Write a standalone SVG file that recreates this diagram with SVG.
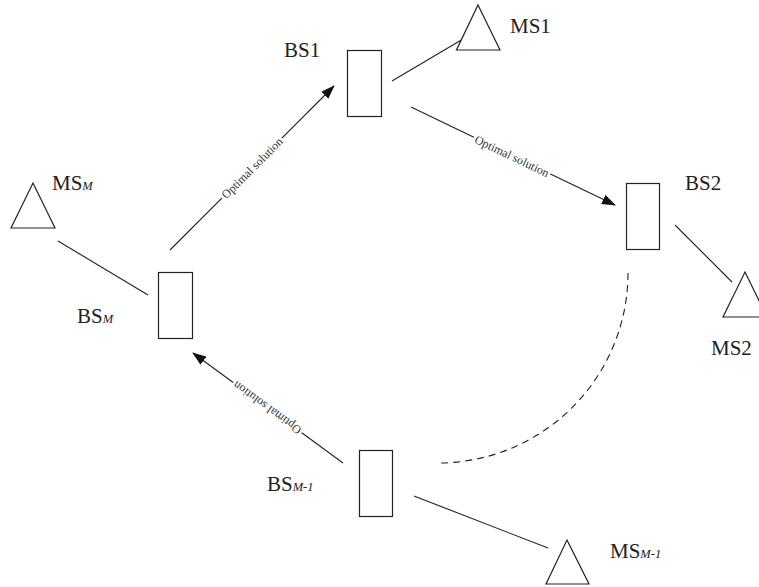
<svg xmlns="http://www.w3.org/2000/svg" width="759" height="587" viewBox="0 0 759 587">
<style>
.bs{fill:#fff;stroke:#222;stroke-width:1.2}
.ms{fill:#fff;stroke:#222;stroke-width:1.2}
.lbl{font-family:"Liberation Serif","Times New Roman",serif;font-size:21px;fill:#222}
.sub{font-style:italic;font-size:12.5px}
.ln{stroke:#222;stroke-width:1.1;fill:none}
.arr{stroke:#222;stroke-width:1.1;fill:none;marker-end:url(#ah)}
.dash{stroke:#222;stroke-width:1.1;fill:none;stroke-dasharray:7,5}
.opt{font-family:"Liberation Serif","Times New Roman",serif;font-size:12px;fill:#333;text-anchor:middle}
.halo{stroke:#fff;stroke-width:5;fill:#fff;stroke-linejoin:round}
</style>
<defs>
<marker id="ah" markerUnits="userSpaceOnUse" markerWidth="14" markerHeight="10" refX="13" refY="5" orient="auto">
<path d="M0,0 L14,5 L0,10 z" fill="#111"/>
</marker>
</defs>
<g id="connectors">
<path class="ln" d="M392,81 L463,39"/>
<path class="ln" d="M675,225 L732,282"/>
<path class="ln" d="M58,241 L148,295"/>
<path class="ln" d="M414,496 L548,548"/>
<path class="arr" d="M170,250 L334,86"/>
<path class="arr" d="M411,107 L615,205"/>
<path class="arr" d="M343,463 L193,353"/>
<path class="dash" d="M628,273 A190,190 0 0 1 438,463"/>
<text class="opt halo" transform="translate(252,168) rotate(-45)" dy="0.35em">Optimal solution</text>
<text class="opt" transform="translate(252,168) rotate(-45)" dy="0.35em">Optimal solution</text>
<text class="opt halo" transform="translate(512,156) rotate(25.6)" dy="0.35em">Optimal solution</text>
<text class="opt" transform="translate(512,156) rotate(25.6)" dy="0.35em">Optimal solution</text>
<text class="opt halo" transform="translate(267,408) rotate(216.1)" dy="0.35em">Optimal solution</text>
<text class="opt" transform="translate(267,408) rotate(216.1)" dy="0.35em">Optimal solution</text>
</g>
<g id="BS1"><rect class="bs" x="347.5" y="50.5" width="34" height="66"/><text class="lbl" x="284" y="57">BS1</text></g>
<g id="MS1"><path class="ms" d="M478,5 L500,50 L456.5,50 z"/><text class="lbl" x="510" y="33">MS1</text></g>
<g id="BS2"><rect class="bs" x="626.5" y="183.5" width="33" height="66"/><text class="lbl" x="685" y="190">BS2</text></g>
<g id="MS2"><path class="ms" d="M745,272 L767,317 L723,317 z"/><text class="lbl" x="711" y="355">MS2</text></g>
<g id="BSM"><rect class="bs" x="158.5" y="272.5" width="34" height="66"/><text class="lbl" x="77" y="323">BS<tspan class="sub">M</tspan></text></g>
<g id="MSM"><path class="ms" d="M33,183 L55,228 L11,228 z"/><text class="lbl" x="52" y="190">MS<tspan class="sub">M</tspan></text></g>
<g id="BSM-1"><rect class="bs" x="359.5" y="450.5" width="33" height="66"/><text class="lbl" x="267" y="491">BS<tspan class="sub">M-1</tspan></text></g>
<g id="MSM-1"><path class="ms" d="M567,540 L589,584 L546,584 z"/><text class="lbl" x="610" y="558">MS<tspan class="sub">M-1</tspan></text></g>
</svg>
